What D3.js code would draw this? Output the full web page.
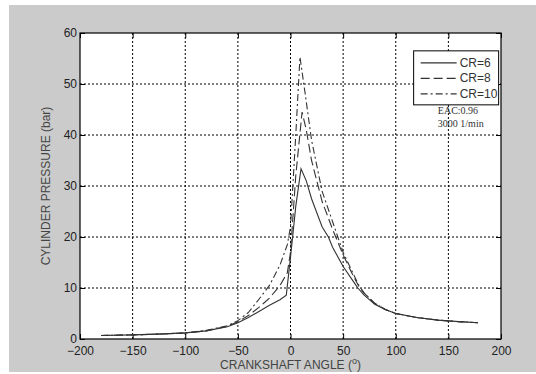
<!DOCTYPE html>
<html>
<head>
<meta charset="utf-8">
<script src="https://cdn.jsdelivr.net/npm/d3@7"></script>
<style>
  body { margin: 0; background: #fff; }
  svg { display: block; }
</style>
</head>
<body>
<svg id="chart"></svg>
<script>
// crank angle (deg) and cylinder pressure (bar)
const angleCR6 = [-180, -150, -120, -100, -80, -60, -50, -40, -30, -20, -10, -4, 0, 5, 10, 15, 20, 30, 36, 40, 50, 60, 64, 70, 80, 90, 100, 120, 140, 160, 178];
const pressCR6 = [0.7, 0.8, 1.0, 1.2, 1.6, 2.4, 3.2, 4.2, 5.4, 6.6, 7.7, 8.6, 16, 26, 33.4, 31, 27.5, 22, 20, 18, 14.2, 11.2, 10, 8.6, 6.8, 5.8, 5.0, 4.2, 3.7, 3.4, 3.2];

const angleCR8 = [-180, -150, -120, -100, -80, -60, -50, -40, -30, -20, -10, -3, 0, 5, 11, 15, 20, 30, 40, 50, 60, 65, 70, 80, 90, 100, 120, 140, 160, 178];
const pressCR8 = [0.7, 0.8, 1.0, 1.2, 1.6, 2.5, 3.4, 4.6, 6.2, 8.0, 10.5, 13, 17, 32, 44.5, 41, 35, 27, 21.5, 16.5, 12.2, 10.3, 9.0, 7.0, 5.8, 5.0, 4.2, 3.7, 3.4, 3.2];

const angleCR10 = [-180, -150, -120, -100, -80, -60, -50, -40, -30, -20, -10, -3, 0, 5, 9, 14, 20, 30, 40, 50, 60, 65, 70, 80, 90, 100, 120, 140, 160, 178];
const pressCR10 = [0.7, 0.8, 1.0, 1.2, 1.7, 2.6, 3.6, 5.2, 7.8, 10.5, 14.5, 18.5, 22, 40, 55.3, 48, 39, 29, 23, 17, 12.6, 10.5, 9.0, 7.0, 5.8, 5.0, 4.2, 3.7, 3.4, 3.2];

const xTicks = [-200, -150, -100, -50, 0, 50, 100, 150, 200];
const yTicks = [0, 10, 20, 30, 40, 50, 60];

const seriesNames = ['CR=6', 'CR=8', 'CR=10'];
const noteLines = ['EAC:0.96', '3000 1/min'];

const W = 536, H = 374;
const margin = {top: 33, right: 35, bottom: 35, left: 80};
const innerW = W - margin.left - margin.right;
const innerH = H - margin.top - margin.bottom;

const svg = d3.select('#chart').attr('width', W).attr('height', H);

// grey figure background
svg.append('rect')
    .attr('x', 9).attr('y', 5)
    .attr('width', W - 9).attr('height', 367)
    .attr('fill', '#cbcbcb');

const chart = svg.append('g')
    .attr('transform', `translate(${margin.left}, ${margin.top})`);

const x = d3.scaleLinear().domain([-200, 200]).range([0, innerW]);
const y = d3.scaleLinear().domain([0, 60]).range([innerH, 0]);

chart.append('rect')
    .attr('width', innerW).attr('height', innerH)
    .attr('fill', '#fff');

// dotted grid
chart.append('g')
    .selectAll('line')
    .data(xTicks.slice(1, -1))
    .join('line')
    .attr('x1', d => x(d)).attr('x2', d => x(d))
    .attr('y1', 0).attr('y2', innerH)
    .attr('stroke', '#000').attr('stroke-width', 1)
    .attr('stroke-dasharray', '2,2');

chart.append('g')
    .selectAll('line')
    .data(yTicks.slice(1, -1))
    .join('line')
    .attr('y1', d => y(d)).attr('y2', d => y(d))
    .attr('x1', 0).attr('x2', innerW)
    .attr('stroke', '#000').attr('stroke-width', 1)
    .attr('stroke-dasharray', '2,2');

// axes with inward ticks
const styleAxis = g => {
    g.select('.domain').remove();
    g.selectAll('text')
        .style('font-family', 'Liberation Sans, Arial, sans-serif')
        .style('font-size', '12px')
        .attr('fill', '#222');
};

chart.append('g')
    .attr('transform', `translate(0, ${innerH})`)
    .call(d3.axisBottom(x).tickValues(xTicks).tickSize(-5).tickPadding(7))
    .call(styleAxis);

chart.append('g')
    .call(d3.axisLeft(y).tickValues(yTicks).tickSize(-5).tickPadding(3))
    .call(styleAxis);

chart.append('g')
    .call(d3.axisTop(x).tickValues(xTicks).tickSize(-5).tickFormat(''))
    .call(g => g.select('.domain').remove());

chart.append('g')
    .attr('transform', `translate(${innerW}, 0)`)
    .call(d3.axisRight(y).tickValues(yTicks).tickSize(-5).tickFormat(''))
    .call(g => g.select('.domain').remove());

chart.append('rect')
    .attr('width', innerW).attr('height', innerH)
    .attr('fill', 'none')
    .attr('stroke', '#000').attr('stroke-width', 1.2);

// pressure curves
const line = d3.line()
    .x(d => x(d[0]))
    .y(d => y(d[1]));

const series = [
    {name: seriesNames[0], a: angleCR6, p: pressCR6, dash: null},
    {name: seriesNames[1], a: angleCR8, p: pressCR8, dash: '9,4'},
    {name: seriesNames[2], a: angleCR10, p: pressCR10, dash: '7,3,2,3'}
];

series.forEach(s => {
    chart.append('path')
        .attr('d', line(d3.zip(s.a, s.p)))
        .attr('fill', 'none')
        .attr('stroke', '#333')
        .attr('stroke-width', 1.1)
        .attr('stroke-dasharray', s.dash);
});

// legend
const lx = x(117), ly = y(56.5);
const legend = chart.append('g').attr('transform', `translate(${lx}, ${ly})`);
legend.append('rect')
    .attr('width', 85).attr('height', 54)
    .attr('fill', '#fff')
    .attr('stroke', '#000').attr('stroke-width', 1);

series.forEach((s, i) => {
    legend.append('line')
        .attr('x1', 7).attr('x2', 43)
        .attr('y1', 12 + i * 15.5).attr('y2', 12 + i * 15.5)
        .attr('stroke', '#333').attr('stroke-width', 1.1)
        .attr('stroke-dasharray', s.dash);
    legend.append('text')
        .attr('x', 46).attr('y', 16 + i * 15.5)
        .style('font-family', 'Liberation Sans, Arial, sans-serif')
        .style('font-size', '12px')
        .attr('fill', '#333')
        .text(s.name);
});

// operating note
noteLines.forEach((t, i) => {
    chart.append('text')
        .attr('x', x(140)).attr('y', y(44.2) + i * 13)
        .style('font-family', 'Liberation Serif, Times New Roman, serif')
        .style('font-size', '10px')
        .attr('fill', '#333')
        .text(t);
});

// axis titles
const xlabel = svg.append('text')
    .attr('x', margin.left + innerW / 2)
    .attr('y', 369)
    .attr('text-anchor', 'middle')
    .style('font-family', 'Liberation Sans, Arial, sans-serif')
    .style('font-size', '12px')
    .attr('fill', '#444');
xlabel.append('tspan').text('CRANKSHAFT ANGLE (');
xlabel.append('tspan').attr('dy', -5).style('font-size', '9px').text('o');
xlabel.append('tspan').attr('dy', 5).text(')');

svg.append('text')
    .attr('transform', `translate(50, ${margin.top + innerH / 2}) rotate(-90)`)
    .attr('text-anchor', 'middle')
    .style('font-family', 'Liberation Sans, Arial, sans-serif')
    .style('font-size', '12px')
    .attr('fill', '#444')
    .text('CYLINDER PRESSURE (bar)');
</script>
</body>
</html>
